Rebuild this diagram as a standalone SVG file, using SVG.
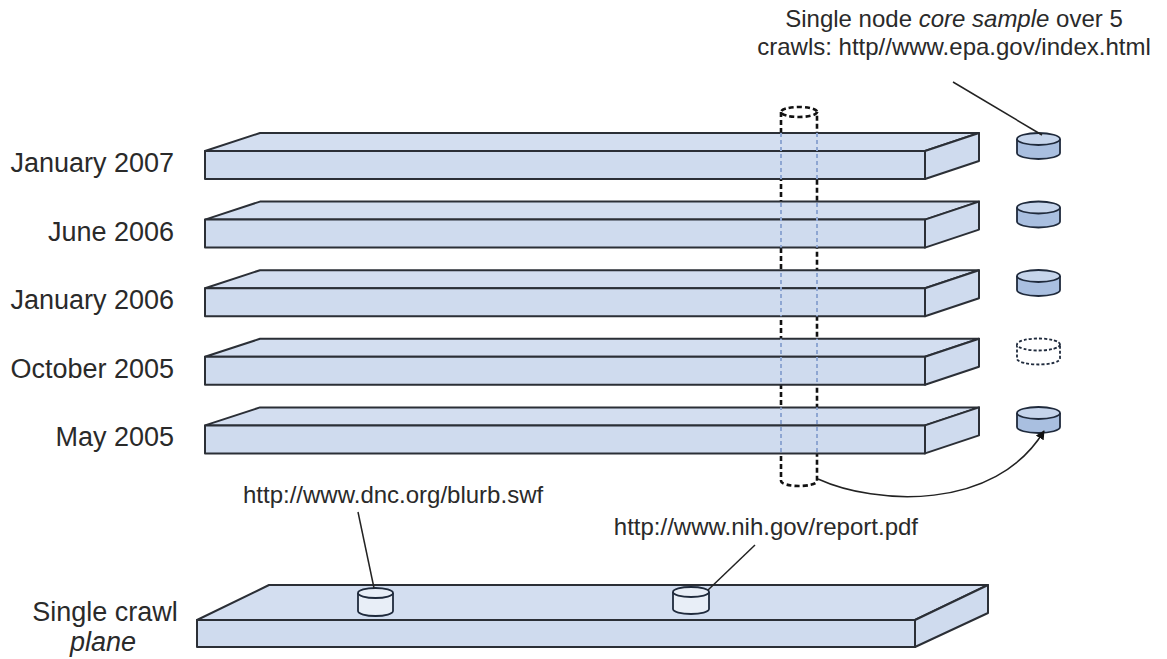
<svg xmlns="http://www.w3.org/2000/svg" xmlns:xlink="http://www.w3.org/1999/xlink" width="1167" height="659" viewBox="0 0 1167 659">
  <style>
    .lbl { font-family: "Liberation Sans", Arial, sans-serif; font-size: 27px; fill: #2a2a2a; }
    .note { font-family: "Liberation Sans", Arial, sans-serif; font-size: 24px; fill: #2a2a2a; }
    .slab { fill: #cfdbee; stroke: #2b2f36; stroke-width: 2; stroke-linejoin: round; }
    .slab-top { fill: #d3def0; stroke: #2b2f36; stroke-width: 2; stroke-linejoin: round; }
    .cyl-body { fill: #a9bfe0; stroke: #1f2a3c; stroke-width: 1.8; }
    .cyl-top { fill: #c6d5ec; stroke: #1f2a3c; stroke-width: 1.8; }
    .cyl-empty { fill: #ffffff; stroke: #1f2a3c; stroke-width: 1.8; stroke-dasharray: 3 2; }
    .cyl-light { fill: #e8eef7; stroke: #1f2a3c; stroke-width: 1.8; }
    .core { fill: none; stroke: #111; stroke-width: 2.6; stroke-dasharray: 5 3; }
    .core-hidden { fill: none; stroke: #8ea6d2; stroke-width: 2; stroke-dasharray: 4 3; }
    .leader { fill: none; stroke: #222; stroke-width: 1.5; }
  </style>
  <defs>
    <!-- one crawl plane: top face, right side face, front face -->
    <g id="plane">
      <polygon class="slab-top" points="0,0 55,-18 774,-18 720,0"/>
      <polygon class="slab" points="720,0 774,-18 774,10 720,28"/>
      <rect class="slab" x="0" y="0" width="720" height="28"/>
    </g>
    <path id="plane-outline" d="M0,0 L55,-18 L774,-18 L774,10 L720,28 L0,28 Z"/>
    <!-- filled node sample -->
    <g id="node-filled">
      <path class="cyl-body" d="M-21.5,0 L-21.5,14 A21.5,6 0 0 0 21.5,14 L21.5,0"/>
      <ellipse class="cyl-top" cx="0" cy="0" rx="21.5" ry="6"/>
    </g>
    <clipPath id="planes-clip">
      <use xlink:href="#plane-outline" transform="translate(205,151)"/>
      <use xlink:href="#plane-outline" transform="translate(205,219.6)"/>
      <use xlink:href="#plane-outline" transform="translate(205,288.2)"/>
      <use xlink:href="#plane-outline" transform="translate(205,356.8)"/>
      <use xlink:href="#plane-outline" transform="translate(205,425.4)"/>
    </clipPath>
    <marker id="arrow" viewBox="0 0 10 10" refX="9" refY="5" markerWidth="9" markerHeight="9" orient="auto" markerUnits="userSpaceOnUse">
      <path d="M0,0 L10,5 L0,10 Z" fill="#111"/>
    </marker>
  </defs>

  <rect width="1167" height="659" fill="#ffffff"/>

  <!-- core sample column behind the planes -->
  <g id="core-sample">
    <ellipse class="core" cx="799" cy="112" rx="18" ry="5"/>
    <path class="core" d="M781,112 L781,481 A18,5 0 0 0 817,481 L817,112"/>
  </g>

  <!-- crawl planes -->
  <g id="crawl-2007-01">
    <use xlink:href="#plane" transform="translate(205,151)"/>
    <text class="lbl" x="174" y="172" text-anchor="end">January 2007</text>
  </g>
  <g id="crawl-2006-06">
    <use xlink:href="#plane" transform="translate(205,219.6)"/>
    <text class="lbl" x="174" y="240.6" text-anchor="end">June 2006</text>
  </g>
  <g id="crawl-2006-01">
    <use xlink:href="#plane" transform="translate(205,288.2)"/>
    <text class="lbl" x="174" y="309.2" text-anchor="end">January 2006</text>
  </g>
  <g id="crawl-2005-10">
    <use xlink:href="#plane" transform="translate(205,356.8)"/>
    <text class="lbl" x="174" y="377.8" text-anchor="end">October 2005</text>
  </g>
  <g id="crawl-2005-05">
    <use xlink:href="#plane" transform="translate(205,425.4)"/>
    <text class="lbl" x="174" y="446.4" text-anchor="end">May 2005</text>
  </g>

  <!-- core sample seen through the planes -->
  <g id="core-sample-hidden" clip-path="url(#planes-clip)">
    <line class="core-hidden" x1="781" y1="112" x2="781" y2="481"/>
    <line class="core-hidden" x1="817" y1="112" x2="817" y2="481"/>
  </g>

  <!-- node samples per crawl -->
  <g id="sample-2007-01"><use xlink:href="#node-filled" transform="translate(1038.5,139)"/></g>
  <g id="sample-2006-06"><use xlink:href="#node-filled" transform="translate(1038.5,207.5)"/></g>
  <g id="sample-2006-01"><use xlink:href="#node-filled" transform="translate(1038.5,276)"/></g>
  <g id="sample-2005-10">
    <path class="cyl-empty" d="M1017,344.5 L1017,358.5 A21.5,6 0 0 0 1060,358.5 L1060,344.5"/>
    <ellipse class="cyl-empty" cx="1038.5" cy="344.5" rx="21.5" ry="6"/>
  </g>
  <g id="sample-2005-05"><use xlink:href="#node-filled" transform="translate(1038.5,413)"/></g>

  <!-- single crawl plane -->
  <g id="single-crawl">
    <polygon class="slab-top" points="197,620 269,585 988,585 915,620"/>
    <polygon class="slab" points="915,620 988,585 988,613 915,647"/>
    <rect class="slab" x="197" y="620" width="718" height="27"/>
    <text class="lbl" x="105" y="621" text-anchor="middle">Single crawl</text>
    <text class="lbl" x="103" y="651" text-anchor="middle" font-style="italic">plane</text>
  </g>
  <g id="node-dnc">
    <path class="cyl-light" d="M358,593 L358,611 A17.5,5 0 0 0 393,611 L393,593"/>
    <ellipse class="cyl-light" cx="375.5" cy="593" rx="17.5" ry="5"/>
    <text class="note" x="243" y="503">http://www.dnc.org/blurb.swf</text>
  </g>
  <g id="node-nih">
    <path class="cyl-light" d="M673,592 L673,609 A18,5 0 0 0 709,609 L709,592"/>
    <ellipse class="cyl-light" cx="691" cy="592" rx="18" ry="5"/>
    <text class="note" x="918" y="535" text-anchor="end">http://www.nih.gov/report.pdf</text>
  </g>

  <!-- annotation -->
  <g id="core-note">
    <text class="note" x="954" y="27" text-anchor="middle">Single node <tspan font-style="italic">core sample</tspan> over 5</text>
    <text class="note" x="954" y="55" text-anchor="middle">crawls: http//www.epa.gov/index.html</text>
  </g>

  <!-- connectors -->
  <g id="connectors">
    <line class="leader" x1="953" y1="82" x2="1042" y2="135"/>
    <line class="leader" x1="358" y1="512" x2="374" y2="588"/>
    <line class="leader" x1="755" y1="545" x2="708" y2="590"/>
    <path class="leader" d="M818,479 C875,505 995,512 1044,431" stroke-width="1.8" marker-end="url(#arrow)"/>
  </g>
</svg>
